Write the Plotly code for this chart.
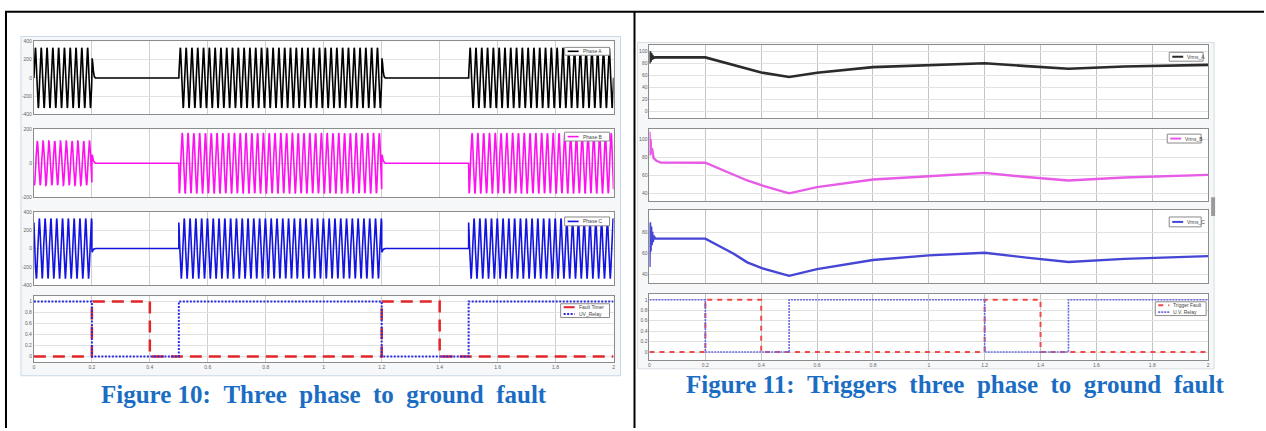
import numpy as np
import plotly.graph_objects as go

W, H = 1266, 431

# ---------------- Figure 10 (left): three phase voltages ----------------
FREQ_HZ = 50.0
SAMPLES_PER_CYCLE = 40
seg_start = [0.0, 0.5, 1.5]
seg_end = [0.2, 1.2, 2.0]
amp_phase_A = [330, 330, 330]
amp_phase_B = [130, 177, 177]
amp_phase_C = [330, 330, 330]
phase_shift_deg = [0, -120, 120]
fault_instants = [0.2, 1.2]
blip_dt = [0.0, 0.001, 0.003, 0.005, 0.008, 0.012]
blip_A = [0, 215, 160, 80, 20, 0]
blip_B = [0, 50, 35, 15, 5, 0]
blip_C = [0, -40, -25, -10, -3, 0]

fault_timer_t = [0.0, 0.2, 0.4, 1.2, 1.4, 2.0]
fault_timer_v = [0, 1, 0, 1, 0, 0]
uv_relay_t = [0.0, 0.2, 0.5, 1.2, 1.5, 2.0]
uv_relay_v = [1, 0, 1, 0, 1, 1]

x_ticks = [0, 0.2, 0.4, 0.6, 0.8, 1.0, 1.2, 1.4, 1.6, 1.8, 2.0]
x_tick_text = ["0", "0.2", "0.4", "0.6", "0.8", "1", "1.2", "1.4", "1.6", "1.8", "2"]

# ---------------- Figure 11 (right): RMS voltages and triggers ----------------
startA_t = [0.0, 0.002, 0.004, 0.006, 0.008, 0.010, 0.013, 0.02]
startA_v = [80, 100, 83, 97, 86, 94, 89, 90]
startB_t = [0.0, 0.002, 0.004, 0.006, 0.009, 0.015, 0.025, 0.04]
startB_v = [108, 82, 100, 84, 90, 79, 76, 74]
startC_t = [0.0, 0.002, 0.004, 0.006, 0.008, 0.010, 0.012, 0.015, 0.02]
startC_v = [47, 90, 62, 86, 68, 81, 71, 77, 74.3]

rms_t = [0.2, 0.3, 0.35, 0.4, 0.5, 0.6, 0.8, 1.0, 1.2, 1.35, 1.5, 1.7, 1.8, 2.0]
rms_A = [90, 78, 71, 65, 57.5, 64.4, 73.8, 77.6, 80.3, 75.5, 71, 74.9, 76, 77.6]
rms_B = [73.8, 61, 54.2, 49, 40, 46.9, 55.3, 58.9, 62.6, 58, 54.2, 57.5, 58.6, 60.4]
rms_C = [74.3, 60, 51.4, 46, 38.4, 44.8, 53.6, 58.1, 60.6, 56, 51.7, 54.8, 55.9, 57.4]

trigger_t = [0.0, 0.2, 0.4, 1.2, 1.4, 2.0]
trigger_v = [0, 1, 0, 1, 0, 0]
uv2_t = [0.0, 0.2, 0.5, 1.2, 1.5, 2.0]
uv2_v = [1, 0, 1, 0, 1, 1]

caption_left = "Figure 10: Three phase to ground fault"
caption_right = "Figure 11: Triggers three phase to ground fault"


def build_wave(amps, shift_deg, blip):
    dt = 1.0 / (FREQ_HZ * SAMPLES_PER_CYCLE)
    ts, vs = [], []
    for i, (s, e) in enumerate(zip(seg_start, seg_end)):
        if i > 0:
            ts.append(s)
            vs.append(0.0)
        t = np.arange(s, e + dt / 2, dt)
        ts.extend(t.tolist())
        vs.extend((amps[i] * np.sin(2 * np.pi * FREQ_HZ * t + np.radians(shift_deg))).tolist())
        if e in fault_instants:
            for d, b in zip(blip_dt, blip):
                ts.append(e + d)
                vs.append(b)
    return ts, vs


def px_x(x):
    return x / W


def px_y(y):
    return 1 - y / H


fig = go.Figure()

left_x = (33, 614)
right_x = (650, 1210)
left_rows = [(39, 113), (128, 197), (212, 286), (297, 364)]
right_rows = [(43, 117), (128, 201), (210, 284), (295, 362)]
left_ranges = [[-400, 400], [-200, 200], [-400, 400], [-0.1, 1.1]]
right_ranges = [[-11.5, 110], [31.3, 110.9], [31.4, 101.9], [-0.151, 1.113]]
left_yticks = [[-400, -200, 0, 200, 400], [-200, 0, 200], [-400, -200, 0, 200, 400],
               [0, 0.2, 0.4, 0.6, 0.8, 1]]
right_yticks = [[0, 20, 40, 60, 80, 100], [40, 60, 80, 100], [40, 60, 80],
                [0, 0.2, 0.4, 0.6, 0.8, 1]]

tickfont = dict(family="Liberation Sans", size=5, color="#666666")
layout_axes = {}
for k in range(8):
    idx = k + 1
    xname = "xaxis" if idx == 1 else f"xaxis{idx}"
    yname = "yaxis" if idx == 1 else f"yaxis{idx}"
    left = k < 4
    row = k % 4
    xp = left_x if left else right_x
    yp = (left_rows if left else right_rows)[row]
    yr = (left_ranges if left else right_ranges)[row]
    ytv = (left_yticks if left else right_yticks)[row]
    layout_axes[xname] = dict(
        domain=[px_x(xp[0]), px_x(xp[1])], range=[0, 2], anchor=f"y{idx if idx > 1 else ''}",
        tickvals=x_ticks, ticktext=x_tick_text, showticklabels=(row == 3),
        tickfont=tickfont, showgrid=True, gridcolor="#cfcfcf" if left else "#c4c4c4", gridwidth=1,
        zeroline=False, showline=True, linecolor="#8c8c8c", linewidth=1, mirror=True,
        ticks="", fixedrange=True,
    )
    layout_axes[yname] = dict(
        domain=[px_y(yp[1]), px_y(yp[0])], range=yr, anchor=f"x{idx if idx > 1 else ''}",
        tickvals=ytv, ticktext=[("%g" % v) for v in ytv], tickfont=tickfont,
        showgrid=True, gridcolor="#e2e2e2", gridwidth=1, zeroline=False,
        showline=True, linecolor="#8c8c8c", linewidth=1, mirror=True, ticks="",
        fixedrange=True,
    )

# ---- left traces ----
ta, va = build_wave(amp_phase_A, phase_shift_deg[0], blip_A)
tb, vb = build_wave(amp_phase_B, phase_shift_deg[1], blip_B)
tc, vc = build_wave(amp_phase_C, phase_shift_deg[2], blip_C)
styles = {}
styles["Phase A"] = dict(color="#000000", width=1.6)
styles["Phase B"] = dict(color="#ff10f0", width=1.6)
styles["Phase C"] = dict(color="#1414e0", width=1.6)
styles["Fault Timer"] = dict(color="#e0262a", width=2.5, dash="12px,7px")
styles["UV_Relay"] = dict(color="#2a2ae0", width=2, dash="2px,1.5px")
styles["Vrms_A"] = dict(color="#2b2b2b", width=2.6)
styles["Vrms_B"] = dict(color="#e85be6", width=2.4)
styles["Vrms_C"] = dict(color="#4646d6", width=2.4)
styles["Trigger Fault"] = dict(color="#ee4a4a", width=2, dash="5px,5px")
styles["U.V. Relay"] = dict(color="#6a6ae0", width=1.6, dash="2px,1px")

fig.add_trace(go.Scatter(x=ta, y=va, mode="lines", name="Phase A", line=styles["Phase A"],
                         xaxis="x", yaxis="y"))
fig.add_trace(go.Scatter(x=tb, y=vb, mode="lines", name="Phase B", line=styles["Phase B"],
                         xaxis="x2", yaxis="y2"))
fig.add_trace(go.Scatter(x=tc, y=vc, mode="lines", name="Phase C", line=styles["Phase C"],
                         xaxis="x3", yaxis="y3"))
fig.add_trace(go.Scatter(x=fault_timer_t, y=fault_timer_v, mode="lines", name="Fault Timer", line_shape="hv",
                         line=styles["Fault Timer"], xaxis="x4", yaxis="y4"))
fig.add_trace(go.Scatter(x=uv_relay_t, y=uv_relay_v, mode="lines", name="UV_Relay", line_shape="hv",
                         line=styles["UV_Relay"], xaxis="x4", yaxis="y4"))

# ---- right traces ----
fig.add_trace(go.Scatter(x=startA_t + rms_t, y=startA_v + rms_A, mode="lines", name="Vrms_A",
                         line=styles["Vrms_A"], xaxis="x5", yaxis="y5"))
fig.add_trace(go.Scatter(x=startB_t + rms_t, y=startB_v + rms_B, mode="lines", name="Vrms_B",
                         line=styles["Vrms_B"], xaxis="x6", yaxis="y6"))
fig.add_trace(go.Scatter(x=startC_t + rms_t, y=startC_v + rms_C, mode="lines", name="Vrms_C",
                         line=styles["Vrms_C"], xaxis="x7", yaxis="y7"))
fig.add_trace(go.Scatter(x=trigger_t, y=trigger_v, mode="lines", name="Trigger Fault", line_shape="hv",
                         line=styles["Trigger Fault"], xaxis="x8", yaxis="y8"))
fig.add_trace(go.Scatter(x=uv2_t, y=uv2_v, mode="lines", name="U.V. Relay", line_shape="hv",
                         line=styles["U.V. Relay"], xaxis="x8", yaxis="y8"))

shapes = []
annotations = []

# scope image backgrounds
shapes.append(dict(type="rect", xref="paper", yref="paper", layer="below",
                   x0=px_x(20), x1=px_x(621), y0=px_y(378), y1=px_y(34),
                   fillcolor="#f6f7f9", line=dict(color="#c9d8e8", width=1)))
shapes.append(dict(type="rect", xref="paper", yref="paper", layer="below",
                   x0=px_x(638), x1=px_x(1216), y0=px_y(371), y1=px_y(40),
                   fillcolor="#f6f7f8", line=dict(color="#d8dde2", width=1)))
# white plotting areas on top of the scope background
for xp, rows in ((left_x, left_rows), (right_x, right_rows)):
    for (y0, y1) in rows:
        shapes.append(dict(type="rect", xref="paper", yref="paper", layer="below",
                           x0=px_x(xp[0]), x1=px_x(xp[1]), y0=px_y(y1), y1=px_y(y0),
                           fillcolor="#ffffff", line=dict(width=0)))
shapes.append(dict(type="rect", xref="paper", yref="paper", layer="above",
                   x0=px_x(1213), x1=px_x(1217), y0=px_y(216), y1=px_y(197),
                   fillcolor="#9a9a9a", line=dict(width=0)))

# compact scope-style legend boxes (x0, y0, x1, y1 in px) and their entries
legend_boxes = [
    ((565, 45, 610, 53), ["Phase A"]),
    ((565, 131, 610, 140), ["Phase B"]),
    ((565, 217, 610, 226), ["Phase C"]),
    ((561, 305, 610, 319), ["Fault Timer", "UV_Relay"]),
    ((1171, 50, 1205, 59), ["Vrms_A"]),
    ((1169, 133, 1203, 142), ["Vrms_B"]),
    ((1171, 217, 1203, 227), ["Vrms_C"]),
    ((1157, 303, 1208, 317), ["Trigger Fault", "U.V. Relay"]),
]
for (x0, y0, x1, y1), names in legend_boxes:
    shapes.append(dict(type="rect", xref="paper", yref="paper", layer="above",
                       x0=px_x(x0), x1=px_x(x1), y0=px_y(y1), y1=px_y(y0),
                       fillcolor="#ffffff", line=dict(color="#8a8a8a", width=1)))
    n = len(names)
    rowh = (y1 - y0) / n
    for j, nm in enumerate(names):
        yc = y0 + rowh * (j + 0.5)
        st = styles[nm]
        shapes.append(dict(type="line", xref="paper", yref="paper", layer="above",
                           x0=px_x(x0 + 3), x1=px_x(x0 + 14), y0=px_y(yc), y1=px_y(yc),
                           line=dict(color=st["color"], width=min(st["width"], 2),
                                     dash=st.get("dash", "solid"))))
        annotations.append(dict(text=nm, x=px_x(x0 + 16), y=px_y(yc), xref="paper", yref="paper",
                                xanchor="left", yanchor="middle", showarrow=False,
                                font=dict(family="Liberation Sans", size=5, color="#444444")))

# table borders
border = dict(color="#000000", width=2)
shapes.append(dict(type="line", xref="paper", yref="paper", layer="above",
                   x0=px_x(4), x1=1, y0=px_y(9), y1=px_y(9), line=border))
shapes.append(dict(type="line", xref="paper", yref="paper", layer="above",
                   x0=px_x(5), x1=px_x(5), y0=px_y(9), y1=0, line=border))
shapes.append(dict(type="line", xref="paper", yref="paper", layer="above",
                   x0=px_x(635), x1=px_x(635), y0=px_y(9), y1=0, line=border))


def wide_spaces(s, keep_first=1):
    words = s.split(" ")
    out = words[0]
    for i, w in enumerate(words[1:]):
        sep = " " if i < keep_first else "\u00a0\u00a0"
        out += sep + w
    return out


cap_font = dict(family="Liberation Serif", size=25, color="#1a6dc3")
annotations += [
    dict(text="<b>" + wide_spaces(caption_left) + "</b>", x=px_x(324), y=px_y(397),
         xref="paper", yref="paper", xanchor="center", yanchor="middle", showarrow=False, font=cap_font),
    dict(text="<b>" + wide_spaces(caption_right) + "</b>", x=px_x(956), y=px_y(387),
         xref="paper", yref="paper", xanchor="center", yanchor="middle", showarrow=False, font=cap_font),
]

fig.update_layout(
    width=W, height=H, autosize=False,
    margin=dict(l=0, r=0, t=0, b=0, pad=0),
    paper_bgcolor="#ffffff", plot_bgcolor="#ffffff",
    showlegend=False, shapes=shapes, annotations=annotations,
    **layout_axes,
)

fig.write_html("out.html", config={"displayModeBar": False},
               post_script="document.body.style.margin='0';document.body.style.overflow='hidden';")
